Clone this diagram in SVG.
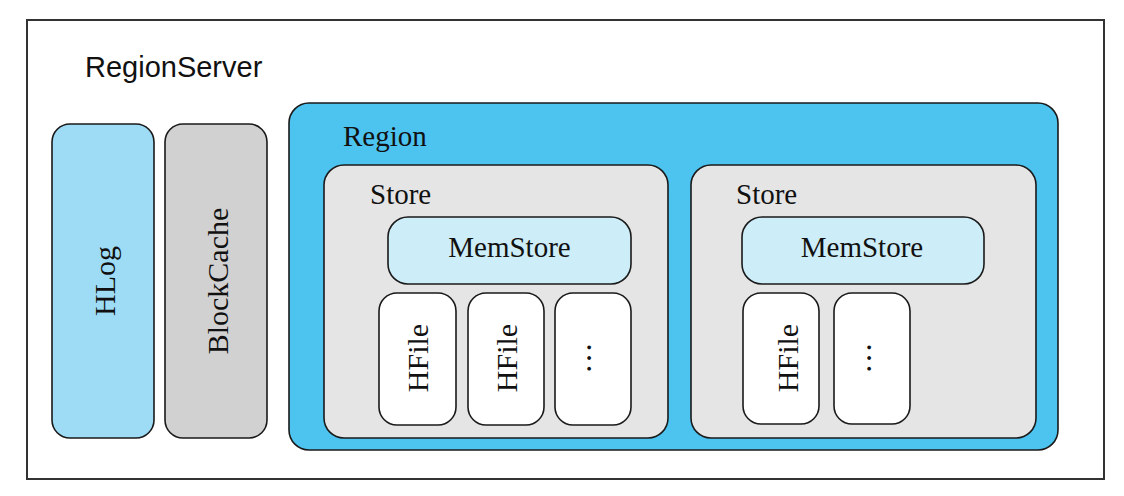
<svg xmlns="http://www.w3.org/2000/svg" width="1124" height="496" viewBox="0 0 1124 496">
<style>
.box{stroke:#1a1a1a;stroke-width:1.6}
.t{font-family:"Liberation Serif","Times New Roman",serif;font-size:29px;fill:#111}
.r{font-size:30px}
.d{font-size:32px}
.s{font-family:"Liberation Sans",Arial,sans-serif;font-size:29px;fill:#111}
</style>
<rect width="1124" height="496" fill="#ffffff"/>
<g id="regionserver">
<rect x="27" y="20" width="1077" height="459" fill="#ffffff" stroke="#333" stroke-width="2"/>
<text class="s" x="85" y="77">RegionServer</text>
</g>
<g id="hlog">
<rect class="box" x="52" y="124" width="102" height="314" rx="18" fill="#9edcf6"/>
<text class="t r" text-anchor="middle" transform="translate(115,281) rotate(-90)">HLog</text>
</g>
<g id="blockcache">
<rect class="box" x="165" y="124" width="102" height="314" rx="18" fill="#d1d1d1"/>
<text class="t r" text-anchor="middle" transform="translate(228,281) rotate(-90)">BlockCache</text>
</g>
<g id="region">
<rect class="box" x="289" y="103" width="769" height="347" rx="20" fill="#4dc3f0"/>
<text class="t" x="343" y="146">Region</text>
</g>
<g id="store1">
<rect class="box" x="324" y="165" width="344" height="273" rx="20" fill="#e5e5e5"/>
<text class="t" x="370" y="204">Store</text>
</g>
<g id="memstore1">
<rect class="box" x="388" y="217" width="243" height="67" rx="20" fill="#cdedf8"/>
<text class="t" x="509.5" y="257" text-anchor="middle">MemStore</text>
</g>
<g id="hfile1a">
<rect class="box" x="379" y="293" width="77" height="132" rx="18" fill="#ffffff"/>
<text class="t r" text-anchor="middle" transform="translate(428,358) rotate(-90)">HFile</text>
</g>
<g id="hfile1b">
<rect class="box" x="468" y="293" width="76" height="132" rx="18" fill="#ffffff"/>
<text class="t r" text-anchor="middle" transform="translate(517,358) rotate(-90)">HFile</text>
</g>
<g id="more1">
<rect class="box" x="555" y="293" width="76" height="132" rx="18" fill="#ffffff"/>
<text class="t d" text-anchor="middle" transform="translate(591,358) rotate(-90)">…</text>
</g>
<g id="store2">
<rect class="box" x="691" y="165" width="345" height="273" rx="20" fill="#e5e5e5"/>
<text class="t" x="736" y="204">Store</text>
</g>
<g id="memstore2">
<rect class="box" x="742" y="217" width="242" height="67" rx="20" fill="#cdedf8"/>
<text class="t" x="862" y="257" text-anchor="middle">MemStore</text>
</g>
<g id="hfile2a">
<rect class="box" x="743" y="293" width="76" height="131" rx="18" fill="#ffffff"/>
<text class="t r" text-anchor="middle" transform="translate(798,358) rotate(-90)">HFile</text>
</g>
<g id="more2">
<rect class="box" x="834" y="293" width="76" height="131" rx="18" fill="#ffffff"/>
<text class="t d" text-anchor="middle" transform="translate(871,358) rotate(-90)">…</text>
</g>
<g id="connectors"></g>
</svg>
